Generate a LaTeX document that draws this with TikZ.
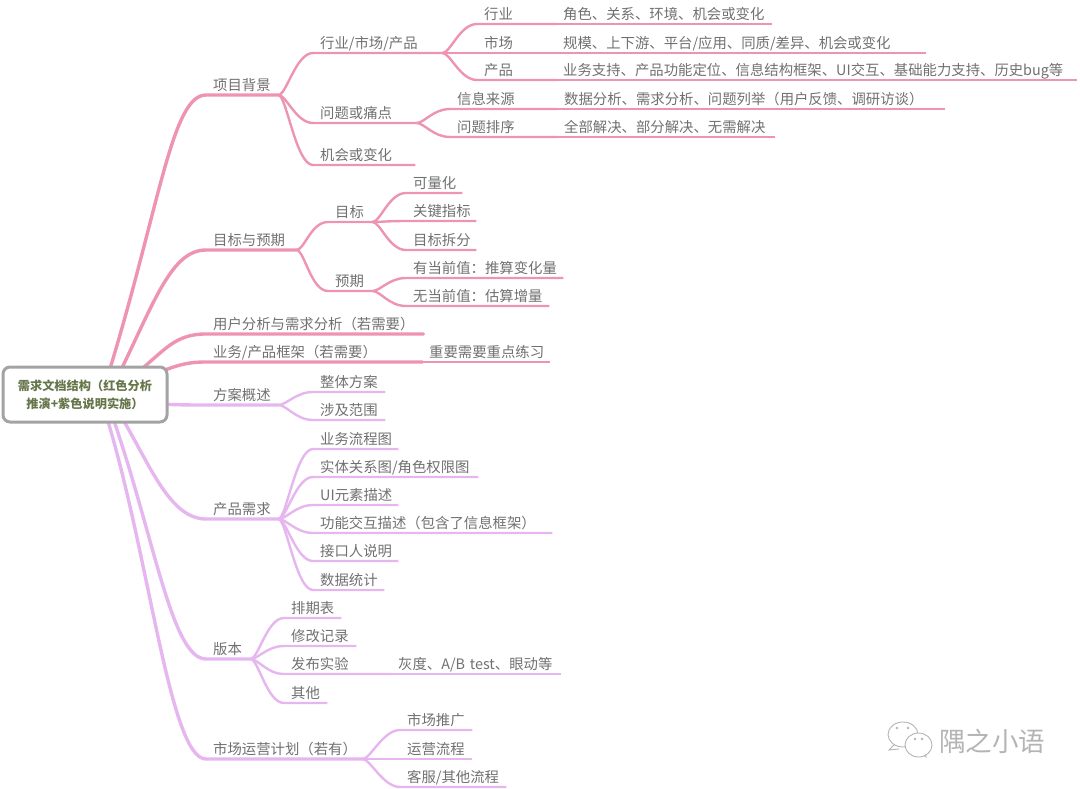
\documentclass[tikz,border=0pt]{standalone}
\usepackage{fontspec}
\setmainfont{Noto Sans CJK SC}
\definecolor{pinkline}{HTML}{EE94B2}
\definecolor{purpline}{HTML}{E6B6EF}
\definecolor{txtgray}{HTML}{707070}
\definecolor{rootgray}{HTML}{A3A3A3}
\definecolor{rootgreen}{HTML}{66764A}
\definecolor{markgray}{HTML}{B4B4B4}
\tikzset{
  item/.style={anchor=south west,text width=#1pt,align=left,inner xsep=7pt,inner ysep=3.5pt,
    text height=11pt,text depth=1pt,text=txtgray,font=\fontsize{14.37}{16}\selectfont},
  rootbox/.style={draw=rootgray,line width=3pt,rounded corners=7pt,fill=white,minimum width=164pt,minimum height=55pt,
    align=center,inner sep=0pt,text=rootgreen,font=\fontsize{12.2}{18}\selectfont\bfseries},
  pinkmain/.style={draw=pinkline,line width=3.4pt,line cap=round},
  purpmain/.style={draw=purpline,line width=3.4pt,line cap=round},
  pinksub/.style={draw=pinkline,line width=2.4pt},
  purpsub/.style={draw=purpline,line width=2.4pt},
  bubble/.style={draw=markgray,line width=0.9pt,fill=white},
}
\begin{document}
\begin{tikzpicture}[x=1pt,y=-1pt]
  \useasboundingbox (0,0) rectangle (1080,789);
  % first level
  \node[item=58] (bg) at (206,95) {项目背景};
  \node[item=76] (goal) at (206,250) {目标与预期};
  \node[item=203] (user) at (206,334) {用户分析与需求分析（若需要）};
  \node[item=202] (biz) at (206,362) {业务/产品框架（若需要）};
  \node[item=58] (plan) at (206,405) {方案概述};
  \node[item=58] (prod) at (206,519) {产品需求};
  \node[item=30] (ver) at (206,659) {版本};
  \node[item=142] (mkt) at (206,759) {市场运营计划（若有）};
  \node[item=114] (note) at (422,362) {重要需要重点练习};
  % project background
  \node[item=115] (field) at (313,53) {行业/市场/产品};
  \node[item=89] (pain) at (313,123) {问题或痛点};
  \node[item=88] (chance) at (313,165) {机会或变化};
  \node[item=65] (hy) at (477,24) {行业};
  \node[item=65] (sc) at (477,53) {市场};
  \node[item=65] (cp) at (477,80) {产品};
  \node[item=202] (hyd) at (556,24) {角色、关系、环境、机会或变化};
  \node[item=356] (scd) at (556,53) {规模、上下游、平台/应用、同质/差异、机会或变化};
  \node[item=507] (cpd) at (556,80) {业务支持、产品功能定位、信息结构框架、UI交互、基础能力支持、历史bug等};
  \node[item=93] (src) at (450,109) {信息来源};
  \node[item=93] (rank) at (450,137) {问题排序};
  \node[item=374] (srcd) at (557,109) {数据分析、需求分析、问题列举（用户反馈、调研访谈）};
  \node[item=204] (rankd) at (557,137) {全部解决、部分解决、无需解决};
  % goals
  \node[item=30] (mb) at (328,222) {目标};
  \node[item=30] (yq) at (328,291) {预期};
  \node[item=42] (lh) at (406,193) {可量化};
  \node[item=56] (kpi) at (406,221) {关键指标};
  \node[item=56] (cf) at (406,250) {目标拆分};
  \node[item=143] (you) at (406,278) {有当前值：推算变化量};
  \node[item=129] (wu) at (406,306) {无当前值：估算增量};
  % plan and product
  \node[item=58] (zt) at (313,392) {整体方案};
  \node[item=58] (sj) at (313,420) {涉及范围};
  \node[item=71] (lc) at (313,449) {业务流程图};
  \node[item=151] (st) at (313,477) {实体关系图/角色权限图};
  \node[item=71] (ui) at (313,505) {UI元素描述};
  \node[item=225] (gn) at (313,533) {功能交互描述（包含了信息框架）};
  \node[item=71] (jk) at (313,561) {接口人说明};
  \node[item=57] (tj) at (313,590) {数据统计};
  % version and market
  \node[item=43] (pq) at (284,618) {排期表};
  \node[item=58] (xg) at (284,646) {修改记录};
  \node[item=93] (fb) at (284,674) {发布实验};
  \node[item=156] (gd) at (391,674) {灰度、A/B test、眼动等};
  \node[item=29] (qt) at (284,703) {其他};
  \node[item=58] (tg) at (400,730) {市场推广};
  \node[item=58] (yy) at (400,759) {运营流程};
  \node[item=92] (kf) at (400,787) {客服/其他流程};
  % root sits on top of the branches
  \coordinate (r1) at (109,372);
  \coordinate (r2) at (120,372);
  \coordinate (r3) at (138,372);
  \coordinate (r4) at (160,372);
  \coordinate (r5) at (160,404);
  \coordinate (r6) at (122,418);
  \coordinate (r7) at (113,418);
  \coordinate (r8) at (107,418);
  \draw[pinkmain] (r1) .. controls (160,205) and (172,95) .. (bg.south west) -- (bg.south east);
  \draw[pinkmain] (r2) .. controls (155,300) and (172,250) .. (goal.south west) -- (goal.south east);
  \draw[pinkmain] (r3) .. controls (165,350) and (175,334) .. (user.south west) -- (user.south east);
  \draw[pinkmain] (r4) .. controls (180,364) and (190,362) .. (biz.south west) -- (biz.south east);
  \draw[purpmain] (r5) .. controls (180,405) and (190,405) .. (plan.south west) -- (plan.south east);
  \draw[purpmain] (r6) .. controls (150,465) and (170,519) .. (prod.south west) -- (prod.south east);
  \draw[purpmain] (r7) .. controls (155,540) and (172,659) .. (ver.south west) -- (ver.south east);
  \draw[purpmain] (r8) .. controls (150,560) and (170,759) .. (mkt.south west) -- (mkt.south east);
  \foreach \from/\to in {bg/field,bg/pain,bg/chance,field/hy,field/sc,field/cp,pain/src,pain/rank,goal/mb,goal/yq,mb/lh,mb/kpi,mb/cf,yq/you,yq/wu}
    \draw[pinksub] (\from.south east) .. controls +(8,0) and +(-17,0) .. (\to.south west) -- (\to.south east);
  \foreach \from/\to in {plan/zt,plan/sj,prod/lc,prod/st,prod/ui,prod/gn,prod/jk,prod/tj,ver/pq,ver/xg,ver/fb,ver/qt,mkt/tg,mkt/yy,mkt/kf}
    \draw[purpsub] (\from.south east) .. controls +(8,0) and +(-17,0) .. (\to.south west) -- (\to.south east);
  \foreach \from/\to in {hy/hyd,sc/scd,cp/cpd,src/srcd,rank/rankd}
    \draw[pinksub] (\from.south east) -- (\to.south east);
  \draw[pinksub] (biz.south east) -- (note.south east);
  \draw[purpsub] (fb.south east) -- (gd.south east);
  \node[rootbox] (root) at (85,394.5) {需求文档结构（红色分析\\推演+紫色说明实施）};
  % watermark
  \draw[bubble] (896,743) -- (889,750) -- (899,749);
  \draw[bubble] (903,734.5) ellipse (15 and 12.5);
  \draw[bubble] (921,752) -- (926,757) -- (926,751);
  \draw[bubble] (918.5,745) ellipse (13.5 and 12);
  \foreach \x/\y in {897/728,908/728,915/739,922/739}
    \fill[markgray] (\x,\y) circle (1.3);
  \node[text=markgray,font=\fontsize{26.5}{28}\selectfont,inner sep=0pt] (mark) at (992,741) {隅之小语};
\end{tikzpicture}
\end{document}
